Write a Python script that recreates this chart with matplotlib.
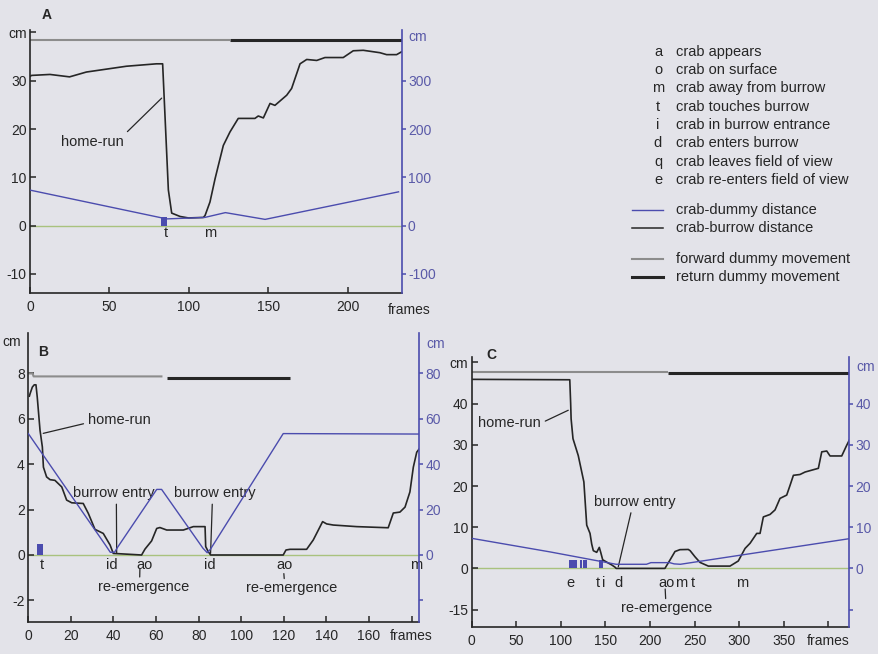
import matplotlib.pyplot as plt
from matplotlib.lines import Line2D

plt.rcParams['font.family'] = ['Liberation Sans', 'DejaVu Sans']
plt.rcParams['axes.unicode_minus'] = False

BG = '#e3e3e9'
INK = '#262626'
BLUE = '#4b4cae'
BLUE_TXT = '#5a5aa8'
GREEN = '#a9c27e'
GREY = '#8c8c8c'
W, H = 879, 654

# ---- A ----
a_burrow_f = [0, 1, 12.6, 24.9, 35.5, 60.7, 79.6, 83.5, 87.1, 89.2, 94.5, 99.7, 109.1, 110.2, 113.3,
              116.5, 118.6, 121.7, 125.9, 131.1, 141.6, 143.7, 146.9, 151.1, 154.2, 161.6, 164.7,
              170, 174.2, 180.5, 185.7, 197.2, 203.5, 209.8, 220.3, 224.5, 230.8, 234]
a_burrow_cm = [30.9, 31.1, 31.3, 30.8, 31.8, 33.0, 33.5, 33.5, 7.4, 2.6, 1.9, 1.6, 1.7, 2.1, 4.9,
               9.7, 12.5, 16.6, 19.4, 22.2, 22.2, 22.7, 22.3, 25.3, 24.9, 27.0, 28.4,
               33.5, 34.4, 34.2, 34.8, 34.8, 36.2, 36.3, 35.8, 35.4, 35.4, 36.0]
a_dummy_f = [0, 86, 110, 123, 148, 232]
a_dummy = [73.6, 14, 17, 27, 13, 70]
a_forward = [0, 126]
a_return = [126, 234]
a_level = 38.4
a_touch = [82.3]
a_touch_w = [3.8]
a_touch_h = [1.85]
a_events = ['t', 'm']
a_event_f = [85.5, 113.3]

# ---- B ----
b_burrow_f = [0.5, 0.8, 1.9, 2.8, 3.6, 4.2, 5.5, 6.6, 7.1, 8.6, 10.2, 12.5, 15.7, 18, 20.4, 25.8,
              28.2, 31.3, 35.2, 38.4, 39.9, 53.2, 54.8, 57.9, 60.3, 61.8, 65, 72.8, 77.5, 83,
              83.3, 84.5, 85.6, 119.7, 121, 122.9, 130.7, 133.8, 136.2, 138.2, 140.1, 143.2,
              154.2, 169, 171.4, 174.5, 176.9, 179.2, 180.8, 182.4, 183.6]
b_burrow_cm = [7.0, 7.1, 7.4, 7.5, 7.5, 6.96, 5.5, 4.76, 3.87, 3.44, 3.32, 3.29, 3.0, 2.42, 2.3, 2.27,
               1.83, 1.13, 0.95, 0.44, 0.07, 0, 0.26, 0.62, 1.17, 1.21, 1.1, 1.1, 1.25, 1.25,
               0.37, 0.15, 0, 0, 0.22, 0.25, 0.25, 0.66, 1.1, 1.47, 1.37, 1.32,
               1.25, 1.2, 1.85, 1.89, 2.11, 2.78, 3.87, 4.53, 4.68]
b_dummy_f = [0, 36.5, 38.5, 40.5, 42, 60.3, 62.6, 82, 84, 85.5, 119.7, 183.6]
b_dummy = [53.5, 4, 1.2, 1.2, 3.5, 28.9, 28.9, 3, 1, 2.5, 53.5, 53.3]
b_forward = [0, 2, 2.5, 63]
b_forward_y = [8.0, 8.0, 7.87, 7.87]
b_return = [65, 123]
b_level = 7.8
b_touch = [4.2]
b_touch_w = [2.8]
b_touch_h = [0.48]
b_events = ['t', 'id', 'ao', 'id', 'ao', 'm']
b_event_f = [6.3, 39.2, 54.5, 85, 120.5, 182.3]

# ---- C ----
c_burrow_f = [0, 110, 111, 111.5, 113.6, 119.5, 125.8, 129, 132.7, 134.6, 136.4, 140.2, 143.1, 144.7,
              146.9, 153.2, 157, 160.7, 162, 216.7, 222.3, 228, 233.5, 242.9, 245, 250.5, 256.1,
              265.4, 289.7, 299, 306.6, 312.2, 319.7, 323.4, 327.1, 334.6, 340.2, 345.8, 353.3,
              357.1, 360.8, 368.2, 373.9, 388.8, 392.6, 398.2, 401.9, 415, 420.6, 423.4]
c_burrow_cm = [45.9, 45.8, 40, 36.3, 31.5, 27.4, 21.0, 10.5, 8.5, 5.9, 4.3, 3.9, 5.1, 3.9,
               2.1, 1.3, 0.85, 0.3, 0, 0, 2.0, 4.1, 4.55, 4.6, 4.3, 2.8, 1.45,
               0.56, 0.56, 1.8, 4.85, 6.1, 8.5, 8.5, 12.5, 13.1, 14.2, 17, 17.8,
               20.2, 22.6, 22.8, 23.4, 24.3, 28.3, 28.5, 27.3, 27.3, 29.9, 31.1]
c_dummy_f = [0, 88, 162, 196, 201, 222, 227, 234, 423]
c_dummy = [7.3, 4.0, 1.0, 1.0, 1.4, 1.4, 1.1, 1.0, 7.2]
c_forward = [0, 220]
c_return = [220, 423.5]
c_level = 47.8
c_touch = [109.4, 121.4, 125.1, 143.0]
c_touch_w = [8.3, 2.6, 4.5, 3.8]
c_touch_h = [2.0, 2.0, 2.0, 2.0]
c_events = ['e', 't', 'i', 'd', 'ao', 'm', 't', 'm']
c_event_f = [111, 141.3, 147.6, 164.4, 218.7, 235, 247.8, 303.8]

legend_keys = ['a', 'o', 'm', 't', 'i', 'd', 'q', 'e']
legend_desc = ['crab appears', 'crab on surface', 'crab away from burrow', 'crab touches burrow',
               'crab in burrow entrance', 'crab enters burrow', 'crab leaves field of view',
               'crab re-enters field of view']

fig = plt.figure(figsize=(W / 100, H / 100), dpi=100, facecolor=BG)


def panel(l, t, r, b, xmax, ylim, scale):
    ax = fig.add_axes([l / W, 1 - b / H, (r - l) / W, (b - t) / H])
    ax.set_facecolor('none')
    ax.set_xlim(0, xmax)
    ax.set_ylim(*ylim)
    ax2 = ax.twinx()
    ax2.set_ylim(ylim[0] * scale, ylim[1] * scale)
    for s in ('top', 'right'):
        ax.spines[s].set_visible(False)
    for s in ('top', 'left', 'bottom'):
        ax2.spines[s].set_visible(False)
    for s in ('left', 'bottom'):
        ax.spines[s].set_color(INK)
        ax.spines[s].set_linewidth(1.2)
    ax2.spines['right'].set_color(BLUE)
    ax2.spines['right'].set_linewidth(1.2)
    ax.tick_params(direction='in', length=4, width=1.1, color=INK, labelcolor=INK, labelsize=10)
    ax.tick_params(axis='y', pad=2.5)
    ax.tick_params(axis='x', pad=5)
    ax2.tick_params(direction='out', length=3, width=1.1, color=BLUE, labelcolor=BLUE_TXT,
                    labelsize=10, pad=1.5)
    ax.axhline(0, color=GREEN, lw=1.0, zorder=1)
    return ax, ax2


def draw(ax, ax2, bf, bcm, df, dv, fwd, fwd_y, ret, ret_y, bars, bw, bh):
    ax.plot(fwd, fwd_y, color=GREY, lw=1.5, solid_capstyle='butt')
    ax.plot(ret, ret_y, color=INK, lw=2.2, solid_capstyle='butt')
    ax.bar(bars, bh, width=bw, align='edge', color=BLUE, zorder=2)
    ax.plot(bf, bcm, color=INK, lw=1.2, zorder=3)
    ax2.plot(df, dv, color=BLUE, lw=1.0)


def label_events(ax, fs, names, y):
    for f, s in zip(fs, names):
        ax.text(f, y, s, ha='center', va='center', fontsize=10.5, color=INK)


def lead(ax, s, xy, xytext, relpos, shrink=1):
    ax.annotate(s, xy=xy, xytext=xytext, ha='center', va='center', fontsize=10.5, color=INK,
                arrowprops=dict(arrowstyle='-', color=INK, lw=0.9, shrinkA=shrink, shrinkB=0,
                                relpos=relpos))


def right_cm(ax2, y):
    ax2.annotate('cm', xy=(1, y), xycoords=ax2.get_yaxis_transform(), xytext=(5, 0),
                 textcoords='offset points', ha='left', va='center', color=BLUE_TXT, fontsize=10)


# panel A
ax, ax2 = panel(30, 30, 401.7, 293.3, 234, (-14.0, 40.5), 10)
draw(ax, ax2, a_burrow_f, a_burrow_cm, a_dummy_f, a_dummy, a_forward, [a_level] * 2,
     a_return, [a_level] * 2, a_touch, a_touch_w, a_touch_h)
ax.set_xticks([0, 50, 100, 150, 200])
ax.set_yticks([-10, 0, 10, 20, 30, 40], ['-10', '0', '10', '20', '30', 'cm'])
ax2.set_yticks([-100, 0, 100, 200, 300])
right_cm(ax2, 390)
label_events(ax, a_event_f, a_events, -1.6)
lead(ax, 'home-run', (82.9, 26.4), (39.2, 17.4), (1.0, 0.95))
ax.annotate('frames', xy=(1, 0), xycoords='axes fraction', xytext=(7.7, -16.7),
            textcoords='offset pixels', ha='center', va='center', fontsize=10, color=INK)

# panel B
ax, ax2 = panel(28.3, 333.3, 419.5, 621.7, 183.7, (-2.94, 9.77), 10)
draw(ax, ax2, b_burrow_f, b_burrow_cm, b_dummy_f, b_dummy, b_forward, b_forward_y,
     b_return, [b_level] * 2, b_touch, b_touch_w, b_touch_h)
ax.set_xticks(list(range(0, 181, 20)), [str(v) for v in range(0, 161, 20)] + ['frames'])
ax.set_yticks([-2, 0, 2, 4, 6, 8])
ax2.set_yticks([-20, 0, 20, 40, 60, 80], ['', '0', '20', '40', '60', '80'])
ax.annotate('cm', xy=(0, 9.4), xycoords=ax.get_yaxis_transform(), xytext=(-5, 0),
            textcoords='offset points', ha='right', va='center', color=INK, fontsize=10)
right_cm(ax2, 93)
label_events(ax, b_event_f, b_events, -0.46)
lead(ax, 'home-run', (7.0, 5.36), (42.6, 5.95), (0.0, 0.3))
lead(ax, 'burrow entry', (41.5, 0.1), (40.2, 2.73), (0.53, 0.0))
lead(ax, 'burrow entry', (85.6, 0.07), (87.6, 2.73), (0.47, 0.0))
lead(ax, 're-emergence', (52.4, -0.62), (54, -1.4), (0.46, 1.0), shrink=0)
lead(ax, 're-emergence', (120, -0.82), (123.7, -1.47), (0.42, 1.0), shrink=0)

# panel C
ax, ax2 = panel(471.7, 356.7, 849.3, 627.3, 423.5, (-14.3, 51.4), 1)
draw(ax, ax2, c_burrow_f, c_burrow_cm, c_dummy_f, c_dummy, c_forward, [c_level] * 2,
     c_return, [c_level - 0.4] * 2, c_touch, c_touch_w, c_touch_h)
ax.set_xticks(list(range(0, 401, 50)), [str(v) for v in range(0, 351, 50)] + ['frames'])
ax.set_yticks([-10, 0, 10, 20, 30, 40, 50], ['-15', '0', '10', '20', '30', '40', 'cm'])
ax2.set_yticks([-10, 0, 10, 20, 30, 40], ['', '0', '10', '20', '30', '40'])
right_cm(ax2, 49)
label_events(ax, c_event_f, c_events, -3.64)
lead(ax, 'home-run', (108.3, 38.4), (42.8, 35.3), (1.0, 0.5))
lead(ax, 'burrow entry', (164.4, 0.4), (182.4, 16.2), (0.47, 0.0))
lead(ax, 're-emergence', (217, -5.0), (218.7, -9.7), (0.49, 1.0), shrink=0)

# panel letters
for s, x, y in [('A', 46.7, 15), ('B', 43.3, 351.7), ('C', 491.7, 355)]:
    fig.text(x / W, 1 - y / H, s, ha='center', va='center', fontsize=10, fontweight='bold', color=INK)

# key
for i, (k, d) in enumerate(zip(legend_keys, legend_desc)):
    y = 1 - (51.7 + i * 18.33) / H
    fig.text(658 / W, y, k, ha='center', va='center', fontsize=10.5, color=INK)
    fig.text(676 / W, y, d, ha='left', va='center', fontsize=10.5, color=INK)

key_lines = [('crab-dummy distance', BLUE, 1.0, 210), ('crab-burrow distance', INK, 1.1, 227.7),
             ('forward dummy movement', GREY, 1.5, 259), ('return dummy movement', INK, 2.2, 277.3)]
for text, col, lw, y in key_lines:
    fig.add_artist(Line2D([632 / W, 663 / W], [1 - y / H] * 2, color=col, lw=lw,
                          transform=fig.transFigure))
    fig.text(676 / W, 1 - y / H, text, ha='left', va='center', fontsize=10.5, color=INK)

fig.savefig('out.png', dpi=100, facecolor=BG)
